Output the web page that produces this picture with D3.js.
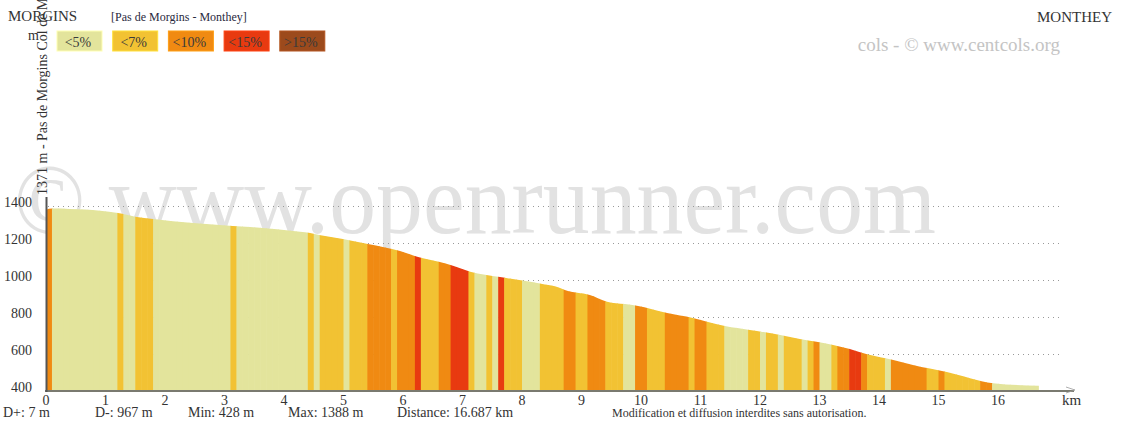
<!DOCTYPE html>
<html>
<head>
<meta charset="utf-8">
<title>Pas de Morgins - Monthey</title>
<script src="https://cdnjs.cloudflare.com/ajax/libs/d3/7.8.5/d3.min.js"></script>
<style>
  body { margin: 0; background: #fff; }
  svg { display: block; font-family: "Liberation Serif", "DejaVu Serif", serif; }
</style>
</head>
<body>
<svg id="chart" width="1133" height="425"></svg>
<script>
// profile: distance (km) and altitude (m)
var profileKm   = [0, 0.1, 0.4, 0.91, 1.21, 1.5, 1.8, 3.14, 3.43, 4.27, 4.44, 4.59, 4.99, 5.41, 5.95, 6.24, 6.62, 6.84, 7.13, 7.63, 8.3, 8.64, 8.72, 9.14, 9.43, 9.73, 9.93, 10.44, 10.87, 11.11, 11.41, 11.83, 12.34, 12.67, 13.23, 13.51, 13.8, 14.24, 14.57, 15.14, 15.92, 16.687];
var profileElev = [1380, 1386, 1384, 1375, 1362, 1342, 1330, 1292, 1286, 1261, 1254, 1243, 1222, 1195, 1157, 1126, 1097, 1077, 1045, 1016, 981, 957, 946, 919, 883, 870, 861, 822, 795, 775, 751, 730, 703, 681, 649, 627, 598, 568, 541, 503, 442, 428];

// slope class runs: start km of each run and its class (0 <5%, 1 <7%, 2 <10%, 3 <15%, 4 >15%)
var runStart = [0, 0.1, 1.2, 1.3, 1.5, 1.8, 3.1, 3.2, 4.4, 4.5, 4.6, 5.0, 5.1, 5.4, 5.8, 5.9, 6.2, 6.3, 6.6, 6.8, 7.1, 7.2, 7.4, 7.5, 7.6, 7.7, 8.0, 8.3, 8.7, 8.9, 9.1, 9.4, 9.7, 9.9, 10.1, 10.4, 10.8, 10.9, 11.1, 11.4, 11.8, 12.0, 12.1, 12.3, 12.4, 12.7, 12.8, 12.9, 13.0, 13.2, 13.3, 13.5, 13.7, 13.8, 14.1, 14.2, 14.8, 15.0, 15.1, 15.7, 15.9];
var runClass = [2, 0, 1, 0, 1, 0, 1, 0, 1, 0, 1, 0, 1, 2, 1, 2, 3, 1, 2, 3, 1, 0, 1, 0, 3, 1, 0, 1, 2, 1, 2, 1, 0, 2, 1, 2, 1, 2, 1, 0, 1, 0, 1, 0, 1, 0, 1, 2, 0, 1, 2, 3, 2, 1, 0, 2, 1, 2, 1, 2, 0];

var classLabels = ['<5%', '<7%', '<10%', '<15%', '>15%'];
var classColors = ['#e3e49c', '#f2c233', '#f08a12', '#e83a10', '#9c4a1c'];

var kmTicks = d3.range(0, 17);
var elevTicks = [400, 600, 800, 1000, 1200, 1400];
var gridTicks = [600, 800, 1000, 1200, 1400];
var totalKm = 16.687;

var svg = d3.select('#chart');

var x = d3.scaleLinear().domain([0, 16]).range([46, 998]);
var y = d3.scaleLinear().domain([400, 1400]).range([391, 206]);

// watermark (behind everything)
svg.append('text')
  .attr('x', 14).attr('y', 233)
  .attr('font-size', 100)
  .attr('textLength', 922).attr('lengthAdjust', 'spacingAndGlyphs')
  .attr('fill', '#e2e2e2')
  .text('\u00a9 www.openrunner.com');

// dotted grid
svg.append('g').selectAll('line').data(gridTicks).join('line')
  .attr('x1', 48).attr('x2', 1062)
  .attr('y1', function(d) { return y(d) + 0.5; })
  .attr('y2', function(d) { return y(d) + 0.5; })
  .attr('stroke', '#999').attr('stroke-width', 1)
  .attr('stroke-dasharray', '1,4');

// profile area as clip, then coloured 100 m slices
var area = d3.area()
  .x(function(d, i) { return x(profileKm[i]); })
  .y0(y(400))
  .y1(function(d) { return y(d); })
  .curve(d3.curveMonotoneX);

svg.append('clipPath').attr('id', 'profile-clip')
  .append('path').attr('d', area(profileElev));

var slices = [];
runStart.forEach(function(s, i) {
  var end = i < runStart.length - 1 ? runStart[i + 1] : totalKm;
  for (var k = s; k < end - 1e-6; k += 0.1) {
    slices.push({ a: k, b: Math.min(k + 0.1, end), c: runClass[i] });
  }
});

svg.append('g').attr('clip-path', 'url(#profile-clip)')
  .selectAll('rect').data(slices).join('rect')
  .attr('x', function(d) { return x(d.a); })
  .attr('width', function(d) { return x(d.b) - x(d.a) + 0.6; })
  .attr('y', y(1450))
  .attr('height', y(400) - y(1450))
  .attr('fill', function(d) { return classColors[d.c]; });

// axes
svg.append('line')
  .attr('x1', 45).attr('x2', 1074).attr('y1', 391).attr('y2', 391)
  .attr('stroke', '#7a7a70').attr('stroke-width', 2);
svg.append('path')
  .attr('d', 'M1066,387 L1075,390 L1066,393')
  .attr('fill', 'none').attr('stroke', '#999').attr('stroke-width', 0.8);
svg.append('line')
  .attr('x1', 46.5).attr('x2', 46.5).attr('y1', 197).attr('y2', 392)
  .attr('stroke', '#555').attr('stroke-width', 2);

svg.append('g').selectAll('text').data(kmTicks).join('text')
  .attr('x', function(d) { return x(d); })
  .attr('y', 405)
  .attr('text-anchor', 'middle')
  .attr('font-size', 14).attr('fill', '#333')
  .text(function(d) { return d; });

svg.append('text').attr('x', 1062).attr('y', 405)
  .attr('font-size', 15).attr('fill', '#333').text('km');

svg.append('g').selectAll('text').data(elevTicks).join('text')
  .attr('x', 32)
  .attr('y', function(d) { return y(d) + 1; })
  .attr('text-anchor', 'end')
  .attr('font-size', 14).attr('fill', '#333')
  .text(function(d) { return d; });

svg.append('text').attr('x', 28).attr('y', 40)
  .attr('font-size', 14).attr('fill', '#333').text('m');

// start point label, rotated
svg.append('text')
  .attr('transform', 'translate(47,195) rotate(-90)')
  .attr('font-size', 14).attr('fill', '#333')
  .text('1371 m - Pas de Morgins Col de Morgins');

// header
svg.append('text').attr('x', 8).attr('y', 21)
  .attr('font-size', 15).attr('fill', '#333').text('MORGINS');
svg.append('text').attr('x', 111).attr('y', 21)
  .attr('font-size', 12).attr('fill', '#2a2a40').text('[Pas de Morgins - Monthey]');
svg.append('text').attr('x', 1112).attr('y', 22).attr('text-anchor', 'end')
  .attr('font-size', 15).attr('fill', '#333').text('MONTHEY');
svg.append('text').attr('x', 1060).attr('y', 51).attr('text-anchor', 'end')
  .attr('font-size', 19).attr('fill', '#c4c4c4').text('cols - \u00a9 www.centcols.org');

// legend
var legend = svg.append('g').selectAll('g').data(classLabels).join('g')
  .attr('transform', function(d, i) { return 'translate(' + (57 + i * 55.7) + ',31)'; });
legend.append('rect')
  .attr('width', 45).attr('height', 20)
  .attr('fill', function(d, i) { return classColors[i]; })
  .attr('stroke', function(d, i) { return d3.color(classColors[i]).brighter(0.4); })
  .attr('stroke-width', 1);
legend.append('text')
  .attr('x', 21).attr('y', 15.5).attr('text-anchor', 'middle')
  .attr('font-size', 14).attr('fill', '#3a3a3a')
  .text(function(d) { return d; });

// footer stats
var stats = [['D+: 7 m', 3], ['D-: 967 m', 95], ['Min: 428 m', 188], ['Max: 1388 m', 288], ['Distance: 16.687 km', 397]];
svg.append('g').selectAll('text').data(stats).join('text')
  .attr('x', function(d) { return d[1]; })
  .attr('y', 417)
  .attr('font-size', 14).attr('fill', '#333')
  .text(function(d) { return d[0]; });
svg.append('text').attr('x', 612).attr('y', 417)
  .attr('font-size', 12).attr('fill', '#333')
  .text('Modification et diffusion interdites sans autorisation.');
</script>
</body>
</html>
